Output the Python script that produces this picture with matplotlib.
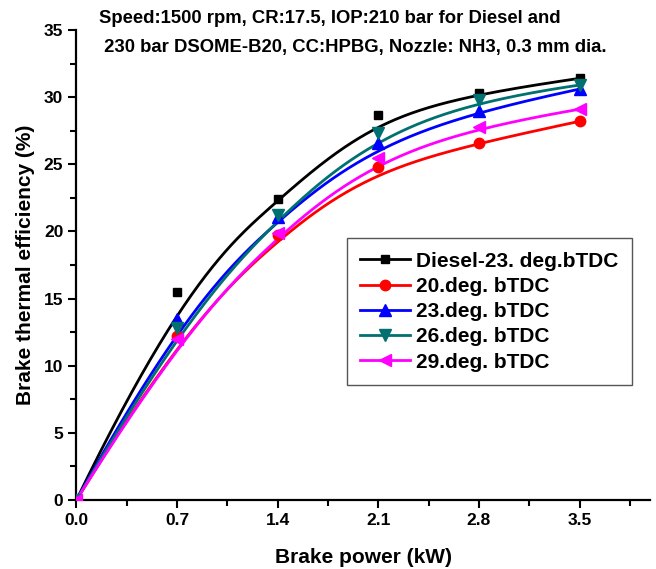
import numpy as np
import matplotlib
matplotlib.use("Agg")
import matplotlib.pyplot as plt
from matplotlib.ticker import MultipleLocator

power = [0.0, 0.7, 1.4, 2.1, 2.8, 3.5]
diesel = [0.0, 15.5, 22.4, 28.7, 30.3, 31.4]
t20 = [0.0, 12.2, 19.7, 24.8, 26.6, 28.2]
t23 = [0.0, 13.5, 21.1, 26.6, 29.0, 30.6]
t26 = [0.0, 12.8, 21.2, 27.3, 29.8, 30.9]
t29 = [0.0, 12.0, 19.9, 25.5, 27.8, 29.1]

labels = ["Diesel-23. deg.bTDC", "20.deg. bTDC", "23.deg. bTDC", "26.deg. bTDC", "29.deg. bTDC"]
series = [diesel, t20, t23, t26, t29]
colors = ["#000000", "#ff0000", "#0000ff", "#007070", "#ff00ff"]
markers = ["s", "o", "^", "v", "<"]
msizes = [6, 7.5, 8, 8, 8.5]

title_lines = ["Speed:1500 rpm, CR:17.5, IOP:210 bar for Diesel and",
               " 230 bar DSOME-B20, CC:HPBG, Nozzle: NH3, 0.3 mm dia."]


def bspline(px, py, n=300, k=3):
    P = np.column_stack([px, py]).astype(float)
    m = len(P)
    inner = np.linspace(0, 1, m - k + 1)
    knots = np.concatenate([[0] * k, inner, [1] * k])
    ts = np.linspace(0, 1 - 1e-9, n)
    out = []
    for t in ts:
        j = np.searchsorted(knots, t, side="right") - 1
        j = min(j, m - 1)
        d = [P[j - k + r].copy() for r in range(k + 1)]
        for r in range(1, k + 1):
            for i in range(k, r - 1, -1):
                a = (t - knots[i + j - k]) / (knots[i + 1 + j - r] - knots[i + j - k])
                d[i] = (1 - a) * d[i - 1] + a * d[i]
        out.append(d[k])
    out.append(P[-1])
    out = np.array(out)
    return out[:, 0], out[:, 1]


plt.rcParams['font.family'] = ['Liberation Sans', 'DejaVu Sans']
plt.rcParams['font.weight'] = 'bold'

fig = plt.figure(figsize=(6.56, 5.69), dpi=100)
ax = fig.add_axes([0.1166, 0.1213, 0.8743, 0.826])

for ys, c, mk, ms, lab in zip(series, colors, markers, msizes, labels):
    cx, cy = bspline(power, ys)
    ax.plot(cx, cy, color=c, lw=2.0, zorder=2)
    ax.plot(power, ys, linestyle='none', marker=mk, color=c, ms=ms, zorder=3)
    ax.plot([], [], color=c, lw=2.0, marker=mk, ms=ms, label=lab)

ax.set_xlim(0, 3.99)
ax.set_ylim(0, 35)
ax.xaxis.set_major_locator(MultipleLocator(0.7))
ax.xaxis.set_minor_locator(MultipleLocator(0.35))
ax.yaxis.set_major_locator(MultipleLocator(5))
ax.yaxis.set_minor_locator(MultipleLocator(2.5))
ax.set_xticks([0.0, 0.7, 1.4, 2.1, 2.8, 3.5])
ax.set_xticklabels(["0.0", "0.7", "1.4", "2.1", "2.8", "3.5"])
for s in ["top", "right"]:
    ax.spines[s].set_visible(False)
for s in ["left", "bottom"]:
    ax.spines[s].set_linewidth(1.6)
ax.tick_params(which='major', direction='out', length=6, width=1.5, labelsize=12.5)
ax.tick_params(which='minor', direction='out', length=4, width=1.5)
for lab in ax.get_xticklabels() + ax.get_yticklabels():
    lab.set_fontweight('bold')

ax.set_xlabel("Brake power (kW)", fontsize=15, fontweight='bold', labelpad=14)
ax.set_ylabel("Brake thermal efficiency (%)", fontsize=15, fontweight='bold', labelpad=6)

fig.text(0.151, 0.968, title_lines[0], fontsize=13.3, fontweight='bold', va='center', ha='left')
fig.text(0.151, 0.917, title_lines[1], fontsize=13.3, fontweight='bold', va='center', ha='left')

leg = ax.legend(loc='upper left', bbox_to_anchor=(0.471, 0.557), fontsize=15,
                frameon=True, fancybox=False, edgecolor='#555555', framealpha=1,
                handlelength=2.4, labelspacing=0.3, borderpad=0.65, handletextpad=0.3,
                borderaxespad=0)
leg.get_frame().set_linewidth(1.0)
for t in leg.get_texts():
    t.set_fontweight('bold')

fig.savefig("out.png", dpi=100)
